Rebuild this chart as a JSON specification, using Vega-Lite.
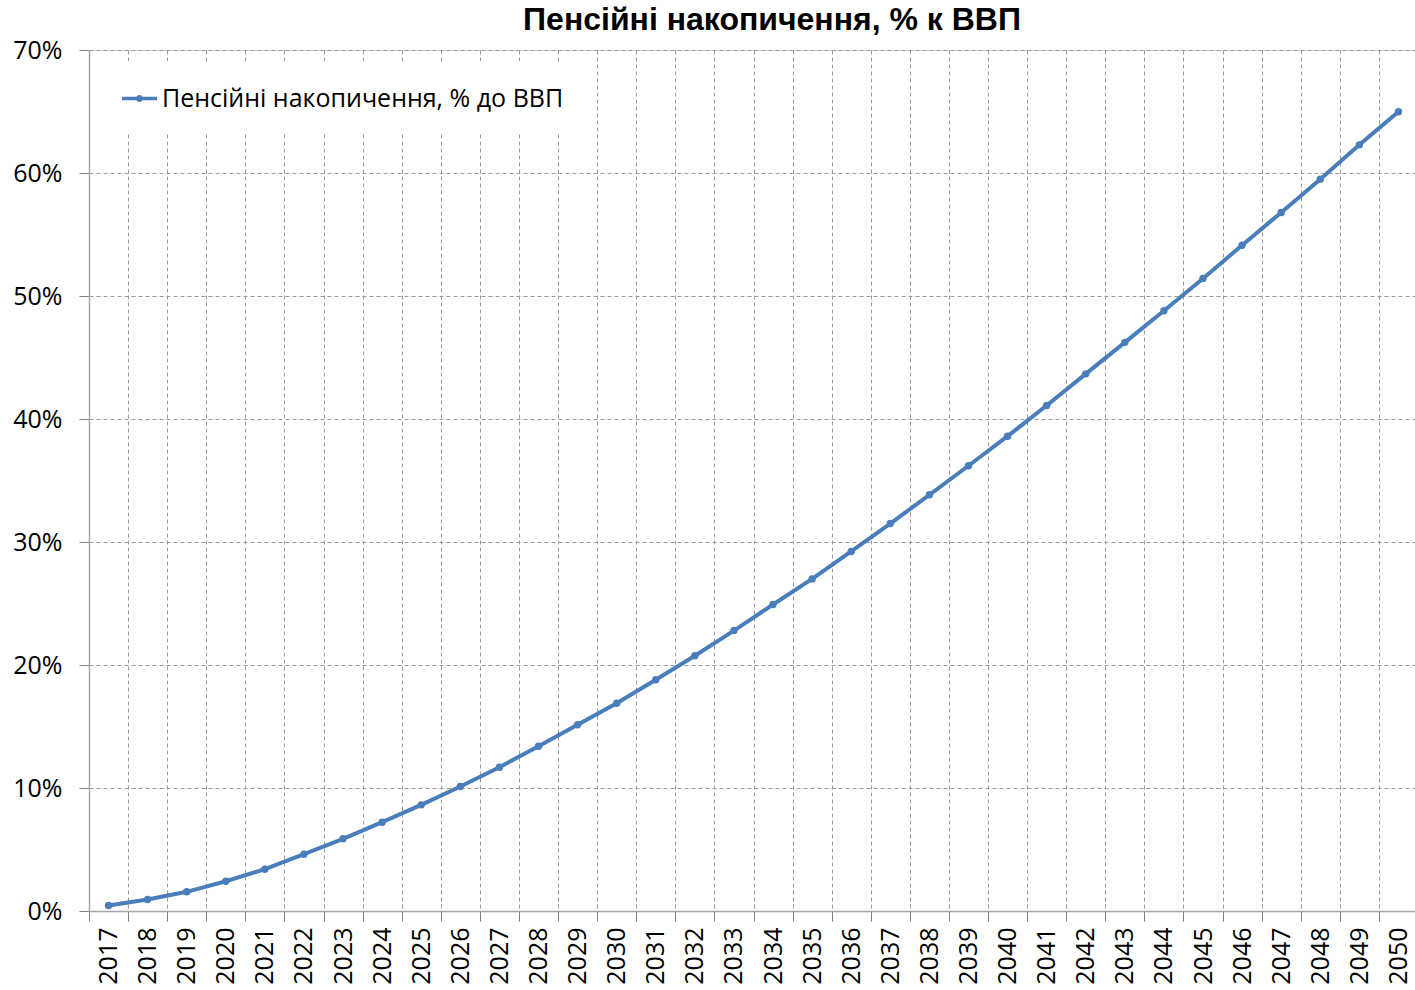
{
  "$schema": "https://vega.github.io/schema/vega-lite/v6.json",
  "width": 1326,
  "height": 861,
  "autosize": {"type": "none"},
  "padding": {"left": 89, "top": 50, "right": 0, "bottom": 79},
  "background": "white",
  "title": {
    "text": "Пенсійні накопичення, % к ВВП",
    "font": "Liberation Sans",
    "fontSize": 32,
    "fontWeight": "bold",
    "color": "black",
    "anchor": "middle",
    "dx": 20,
    "offset": 1
  },
  "data": {
    "values": [
      {"year": "2017", "value": 0.0045},
      {"year": "2018", "value": 0.0093},
      {"year": "2019", "value": 0.0156},
      {"year": "2020", "value": 0.0242},
      {"year": "2021", "value": 0.0340},
      {"year": "2022", "value": 0.0462},
      {"year": "2023", "value": 0.0587},
      {"year": "2024", "value": 0.0722},
      {"year": "2025", "value": 0.0863},
      {"year": "2026", "value": 0.1012},
      {"year": "2027", "value": 0.1169},
      {"year": "2028", "value": 0.1340},
      {"year": "2029", "value": 0.1514},
      {"year": "2030", "value": 0.1689},
      {"year": "2031", "value": 0.1880},
      {"year": "2032", "value": 0.2075},
      {"year": "2033", "value": 0.2280},
      {"year": "2034", "value": 0.2492},
      {"year": "2035", "value": 0.2700},
      {"year": "2036", "value": 0.2923},
      {"year": "2037", "value": 0.3150},
      {"year": "2038", "value": 0.3384},
      {"year": "2039", "value": 0.3620},
      {"year": "2040", "value": 0.3860},
      {"year": "2041", "value": 0.4110},
      {"year": "2042", "value": 0.4367},
      {"year": "2043", "value": 0.4623},
      {"year": "2044", "value": 0.4880},
      {"year": "2045", "value": 0.5142},
      {"year": "2046", "value": 0.5413},
      {"year": "2047", "value": 0.5679},
      {"year": "2048", "value": 0.5950},
      {"year": "2049", "value": 0.6229},
      {"year": "2050", "value": 0.6498}
    ]
  },
  "mark": {
    "type": "line",
    "strokeWidth": 4,
    "point": {"filled": true, "size": 55}
  },
  "encoding": {
    "x": {
      "field": "year",
      "type": "ordinal",
      "scale": {"type": "band", "range": [0, 1329], "paddingInner": 0, "paddingOuter": 0},
      "axis": {
        "title": null,
        "tickBand": "extent",
        "grid": true,
        "gridDash": [4, 3],
        "gridColor": "#9a9a9a",
        "gridWidth": 1,
        "tickColor": "#808080",
        "tickSize": 10,
        "domainColor": "#a6a6a6",
        "domainWidth": 1.5,
        "labelAngle": -90,
        "labelFont": "Open Sans",
        "labelFontSize": 25,
        "labelColor": "black",
        "labelPadding": 6
      }
    },
    "y": {
      "field": "value",
      "type": "quantitative",
      "scale": {"domain": [0, 0.7], "nice": false, "zero": true},
      "axis": {
        "title": null,
        "values": [0, 0.1, 0.2, 0.3, 0.4, 0.5, 0.6, 0.7],
        "format": ".0%",
        "grid": true,
        "gridDash": [4, 3],
        "gridColor": "#9a9a9a",
        "gridWidth": 1,
        "tickColor": "#808080",
        "tickSize": 10,
        "domainColor": "#a6a6a6",
        "domainWidth": 1.5,
        "labelFont": "Open Sans",
        "labelFontSize": 25,
        "labelColor": "black",
        "labelPadding": 17
      }
    },
    "color": {
      "datum": "Пенсійні накопичення, % до ВВП",
      "scale": {"range": ["#4a7ebb"]},
      "legend": {
        "title": null,
        "orient": "none",
        "legendX": 13,
        "legendY": 11,
        "fillColor": "white",
        "padding": 20,
        "labelFont": "Open Sans",
        "labelFontSize": 25,
        "labelColor": "black",
        "labelOffset": 5,
        "labelLimit": 700,
        "symbolType": "M-1,-0.1H1V0.1H-1Z M0.2,0A0.2,0.2,0,1,1,-0.2,0A0.2,0.2,0,1,1,0.2,0Z",
        "symbolSize": 1225,
        "encode": {
          "symbols": {
            "update": {
              "fill": {"value": "#4a7ebb"},
              "stroke": {"value": "transparent"},
              "strokeWidth": {"value": 0},
              "opacity": {"value": 1}
            }
          }
        }
      }
    }
  }
}
